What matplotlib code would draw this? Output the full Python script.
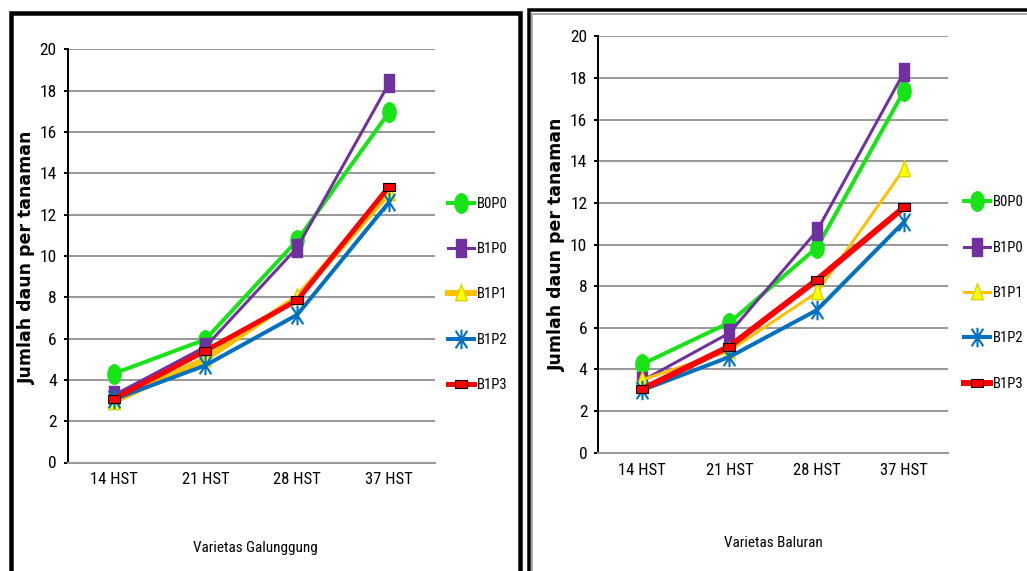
import matplotlib
matplotlib.use("Agg")
import matplotlib.pyplot as plt
from matplotlib import font_manager
from matplotlib.path import Path
from matplotlib.patches import Rectangle
import numpy as np

# --- data ---------------------------------------------------------------
cats = ["14 HST", "21 HST", "28 HST", "37 HST"]
series_names = ["B0P0", "B1P0", "B1P1", "B1P2", "B1P3"]

galunggung_b0p0 = [4.3, 5.95, 10.75, 16.95]
galunggung_b1p0 = [3.25, 5.6, 10.4, 18.35]
galunggung_b1p1 = [2.95, 5.0, 8.0, 13.05]
galunggung_b1p2 = [3.05, 4.7, 7.15, 12.6]
galunggung_b1p3 = [3.07, 5.4, 7.85, 13.35]

baluran_b0p0 = [4.25, 6.25, 9.85, 17.4]
baluran_b1p0 = [3.45, 5.75, 10.65, 18.3]
baluran_b1p1 = [3.5, 4.9, 7.7, 13.65]
baluran_b1p2 = [3.0, 4.6, 6.85, 11.1]
baluran_b1p3 = [3.05, 5.1, 8.3, 11.8]

W, H = 1027, 571


def pick_font(names):
    for n in names:
        try:
            f = font_manager.findfont(n, fallback_to_default=False)
            if n.split()[0].lower() in f.lower().replace("-", " "):
                return n
        except ValueError:
            pass
    return "DejaVu Sans"


# condensed face close to the Calibri of the original
NARROW = pick_font(["Liberation Sans Narrow", "Roboto Condensed",
                    "DejaVu Sans Condensed", "Liberation Sans"])

# custom markers (Excel-like, the source picture is squeezed sideways)
_c = Path.unit_circle()
ELLIPSE = Path(_c.vertices * np.array([0.68, 1.0]), _c.codes)
TALLSQ = Path([(-0.55, -1), (0.55, -1), (0.55, 1), (-0.55, 1), (-0.55, -1)],
              [Path.MOVETO, Path.LINETO, Path.LINETO, Path.LINETO, Path.CLOSEPOLY])
TRI = Path([(-0.65, -0.8), (0.65, -0.8), (0, 1), (-0.65, -0.8)],
           [Path.MOVETO, Path.LINETO, Path.LINETO, Path.CLOSEPOLY])
ASTER = Path([(-0.6, -0.9), (0.6, 0.9), (-0.6, 0.9), (0.6, -0.9), (0, -1), (0, 1)],
             [Path.MOVETO, Path.LINETO] * 3)
RECT = Path([(-1, -0.6), (1, -0.6), (1, 0.6), (-1, 0.6), (-1, -0.6)],
            [Path.MOVETO, Path.LINETO, Path.LINETO, Path.LINETO, Path.CLOSEPOLY])

STYLE = {
    "B0P0": dict(color="#16E416", marker=ELLIPSE, ms=14, mfc="#16E416", mec="#16E416"),
    "B1P0": dict(color="#7030A0", marker=TALLSQ, ms=13, mfc="#7030A0", mec="#7030A0"),
    "B1P1": dict(color="#FFC000", marker=TRI, ms=13, mfc="#FFFF00", mec="#D6D600"),
    "B1P2": dict(color="#0070C0", marker=ASTER, ms=14, mfc="none", mec="#0070C0", mew=1.5),
    "B1P3": dict(color="#FF0000", marker=RECT, ms=8.5, mfc="#FF0000", mec="black", mew=0.8),
}


def px(v):
    return v * 0.72  # pixels -> points at dpi 100


def draw_panel(fig, rect, data, lws, xlabel, xl_pos, yl_pos, leg_xy):
    ax = fig.add_axes(rect)
    x = np.arange(len(cats))
    for name, vals in zip(series_names, data):
        ax.plot(x, vals, lw=px(lws[name]), label=name, **STYLE[name])
    ax.set_xlim(-0.5, len(cats) - 0.5)
    ax.set_ylim(0, 20)
    ax.set_yticks(range(0, 21, 2))
    ax.set_xticks(x)
    ax.set_xticklabels(cats)
    ax.grid(axis="y", color="#999999", lw=px(2))
    ax.set_axisbelow(True)
    for s in ("top", "right"):
        ax.spines[s].set_visible(False)
    ax.spines["bottom"].set_color("#999999")
    ax.spines["bottom"].set_linewidth(px(2))
    ax.spines["left"].set_linewidth(px(2))
    ax.tick_params(axis="y", length=px(4), width=px(2), pad=px(7),
                   labelsize=12.5, labelfontfamily=NARROW)
    ax.tick_params(axis="x", length=0, pad=px(10), labelsize=12,
                   labelfontfamily=NARROW)
    ax.set_ylabel("Jumlah daun per tanaman", fontsize=12.5, fontweight="bold",
                  family="DejaVu Sans", va="center")
    ax.yaxis.set_label_coords(*yl_pos)
    ax.set_xlabel(xlabel, fontsize=11, family=NARROW, va="center")
    ax.xaxis.set_label_coords(*xl_pos)
    ax.legend(loc="center left", bbox_to_anchor=(leg_xy[0] / W, 1 - leg_xy[1] / H),
              bbox_transform=fig.transFigure, frameon=False, borderpad=0,
              borderaxespad=0, handlelength=1.75, handletextpad=0.2,
              labelspacing=2.15, prop=dict(family=NARROW, size=10.5))
    return ax


fig = plt.figure(figsize=(W / 100, H / 100), dpi=100)

ax_l = draw_panel(
    fig, [67.6 / W, 1 - 462.5 / H, 367.4 / W, 413.3 / H],
    [galunggung_b0p0, galunggung_b1p0, galunggung_b1p1, galunggung_b1p2, galunggung_b1p3],
    {"B0P0": 4, "B1P0": 3, "B1P1": 6, "B1P2": 4, "B1P3": 5},
    "Varietas Galunggung", (0.51, -0.207), (-0.11, 0.497), (448, 294.5))

ax_r = draw_panel(
    fig, [598.3 / W, 1 - 452.7 / H, 349.7 / W, 416.3 / H],
    [baluran_b0p0, baluran_b1p0, baluran_b1p1, baluran_b1p2, baluran_b1p3],
    {"B0P0": 4, "B1P0": 3, "B1P1": 3, "B1P2": 4, "B1P3": 6},
    "Varietas Baluran", (0.502, -0.216), (-0.118, 0.501), (964, 293))


# panel frames (pixel coords, y from top)
def frame(x0, y0, x1, y1, lw, color="black"):
    fig.add_artist(Rectangle((x0 / W, 1 - y1 / H), (x1 - x0) / W, (y1 - y0) / H,
                             transform=fig.transFigure, fill=False,
                             lw=px(lw), ec=color, clip_on=False))


frame(11, 12.5, 520, 600, 4.5)
frame(531.5, 14, 1100, 600, 2, "#A8A8A8")
frame(528.5, 10, 1100, 600, 3.5)

fig.savefig("out.png", dpi=100)
